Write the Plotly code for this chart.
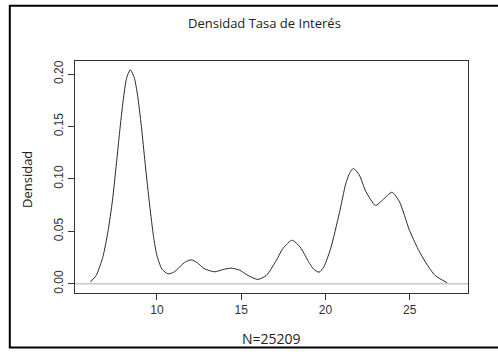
import plotly.graph_objects as go

# Density curve points
tasa = [6.05, 6.4, 6.8, 7.1, 7.36, 7.6, 7.79, 8.0, 8.2, 8.42, 8.65, 8.85, 9.08, 9.3, 9.57,
        9.8, 10.0, 10.3, 10.65, 11.0, 11.35, 11.7, 12.04, 12.4, 12.8, 13.42, 13.9, 14.4,
        14.9, 15.4, 15.98, 16.5, 17.0, 17.5, 18.02, 18.5, 19.0, 19.3, 19.62, 19.9, 20.3,
        20.83, 21.2, 21.45, 21.66, 22.0, 22.4, 22.97, 23.4, 23.95, 24.4, 24.97, 25.5,
        25.96, 26.5, 27.22]
densidad = [0.0016, 0.008, 0.026, 0.05, 0.079, 0.115, 0.145, 0.175, 0.196, 0.204, 0.197,
            0.180, 0.150, 0.115, 0.075, 0.045, 0.027, 0.014, 0.0095, 0.011, 0.016, 0.021,
            0.0228, 0.02, 0.0145, 0.0114, 0.0135, 0.0149, 0.013, 0.008, 0.0041, 0.008,
            0.02, 0.034, 0.0415, 0.035, 0.021, 0.014, 0.011, 0.016, 0.033, 0.0676, 0.095,
            0.106, 0.110, 0.104, 0.088, 0.0746, 0.080, 0.0873, 0.078, 0.0517, 0.033,
            0.020, 0.008, 0.001]

x_ticks = [10, 15, 20, 25]
y_ticks = [0.00, 0.05, 0.10, 0.15, 0.20]
y_labels = ["0.00", "0.05", "0.10", "0.15", "0.20"]
x_range = [5.14, 28.46]
y_range = [-0.0088, 0.2124]

titulo = "Densidad Tasa de Interés"
x_titulo = "N=25209"
y_titulo = "Densidad"

fig = go.Figure()
fig.add_trace(go.Scatter(x=tasa, y=densidad, mode="lines",
                         line=dict(color="#2a2a2a", width=1, shape="spline", smoothing=0.6),
                         hoverinfo="skip", showlegend=False))

# zero line in gray across the plot
fig.add_shape(type="line", xref="paper", yref="y", x0=0, x1=1, y0=0, y1=0,
              line=dict(color="#c8c8c8", width=1.5), layer="below")

# outer border
fig.add_shape(type="rect", xref="paper", yref="paper",
              x0=(9.8 - 75) / 393, x1=1.2, y0=(293 - 347.5) / 232, y1=(293 - 5.8) / 232,
              line=dict(color="black", width=2), fillcolor="rgba(0,0,0,0)")

tickfont = dict(family="Liberation Sans", size=12, color="#333333")
labfont = dict(family="Open Sans", size=13, color="#222222")

fig.update_layout(
    width=498, height=352,
    margin=dict(l=75, r=30, t=61, b=59),
    paper_bgcolor="white", plot_bgcolor="white",
    xaxis=dict(range=x_range, tickvals=x_ticks, ticks="outside", ticklen=6,
               tickcolor="#333333", showgrid=False, zeroline=False, showline=True,
               linecolor="#333333", linewidth=1, mirror=True, tickfont=tickfont,
               fixedrange=True),
    yaxis=dict(range=y_range, tickvals=y_ticks, ticktext=y_labels, ticks="outside",
               ticklen=6, tickcolor="#333333", showgrid=False, zeroline=False,
               showline=True, linecolor="#333333", linewidth=1, mirror=True,
               tickangle=-90, tickfont=tickfont, fixedrange=True),
    annotations=[
        dict(text=titulo, xref="paper", yref="paper", x=(264 - 75) / 393,
             y=(293 - 23) / 232, showarrow=False, xanchor="center", yanchor="middle",
             font=labfont),
        dict(text=x_titulo, xref="paper", yref="paper", x=0.5, y=(293 - 338) / 232,
             showarrow=False, xanchor="center", yanchor="middle",
             font=dict(family="Open Sans", size=14, color="#222222")),
        dict(text=y_titulo, xref="paper", yref="paper", x=(27 - 75) / 393,
             y=(293 - 180) / 232, showarrow=False, xanchor="center", yanchor="middle",
             textangle=-90, font=labfont),
    ],
)

fig.write_html("out.html")
